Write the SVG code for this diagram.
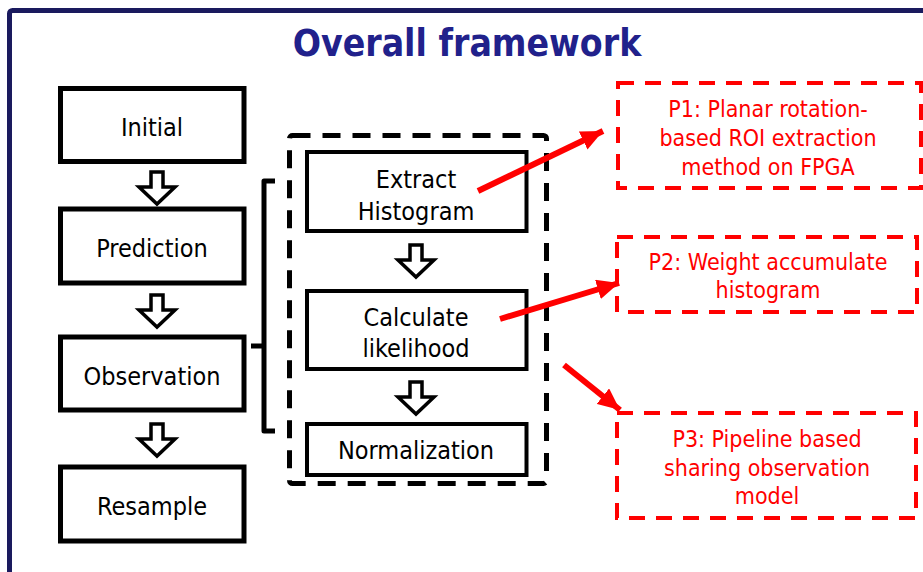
<svg xmlns="http://www.w3.org/2000/svg" width="923" height="572" viewBox="0 0 923 572">
<defs>
<style>
.frame{fill:none;stroke:#1A1A5E;stroke-width:5}
.title{font-family:"DejaVu Sans Condensed","DejaVu Sans",Verdana,sans-serif;font-stretch:condensed;font-weight:bold;font-size:37px;fill:#21218B;text-anchor:middle}
.box{fill:#fff;stroke:#000;stroke-width:5}
.ibox{fill:#fff;stroke:#000;stroke-width:4}
.t{font-family:"DejaVu Sans Condensed","DejaVu Sans",Verdana,sans-serif;font-stretch:condensed;font-size:25px;fill:#000;text-anchor:middle}
.rt{font-family:"DejaVu Sans Condensed","DejaVu Sans",Verdana,sans-serif;font-stretch:condensed;font-size:23px;fill:#FF0000;text-anchor:middle}
.rbox{fill:none;stroke:#FF0000;stroke-width:4;stroke-dasharray:16 11}
.dbox{fill:none;stroke:#000;stroke-width:5;stroke-dasharray:18 12}
.harrow{fill:#fff;stroke:#000;stroke-width:3.5;stroke-linejoin:miter}
.rline{stroke:#FF0000;stroke-width:6;fill:none}
.bracket{fill:none;stroke:#000;stroke-width:5;stroke-linejoin:round}
</style>
<marker id="rh" markerUnits="userSpaceOnUse" markerWidth="24" markerHeight="20" refX="22" refY="10" orient="auto">
<path d="M0,0 L22,10 L0,20 Z" fill="#FF0000"/>
</marker>
<path id="ha" d="M-6,0 L6,0 L6,15 L18,15 L0,32 L-18,15 L-6,15 Z"/>
</defs>

<rect class="frame" x="9.5" y="10.5" width="960" height="620" rx="3"/>
<text class="title" x="467" y="56">Overall framework</text>

<g id="initial"><rect class="box" x="60.5" y="88.5" width="183.5" height="73"/><text class="t" x="152" y="136">Initial</text></g>
<g id="prediction"><rect class="box" x="60.5" y="209" width="183.5" height="74"/><text class="t" x="152" y="257">Prediction</text></g>
<g id="observation"><rect class="box" x="60.5" y="337" width="183.5" height="73"/><text class="t" x="152" y="385">Observation</text></g>
<g id="resample"><rect class="box" x="60.5" y="467" width="183.5" height="74"/><text class="t" x="152" y="515">Resample</text></g>

<g id="observation-model">
<rect class="dbox" x="289.5" y="135.5" width="257" height="348" rx="3"/>
</g>
<g id="extract"><rect class="ibox" x="307" y="152" width="219.5" height="79"/><text class="t" x="416" y="188">Extract</text><text class="t" x="416" y="220">Histogram</text></g>
<g id="calculate"><rect class="ibox" x="307" y="291" width="219.5" height="78"/><text class="t" x="416" y="326">Calculate</text><text class="t" x="416" y="357">likelihood</text></g>
<g id="normalization"><rect class="ibox" x="307" y="424" width="219.5" height="51"/><text class="t" x="416" y="459">Normalization</text></g>

<g id="p1"><rect class="rbox" x="618" y="83" width="303" height="105"/>
<text class="rt" x="768" y="117">P1: Planar rotation-</text><text class="rt" x="768" y="146">based ROI extraction</text><text class="rt" x="768" y="175">method on FPGA</text></g>
<g id="p2"><rect class="rbox" x="617" y="237" width="300" height="75"/>
<text class="rt" x="768" y="270">P2: Weight accumulate</text><text class="rt" x="768" y="298">histogram</text></g>
<g id="p3"><rect class="rbox" x="617" y="413" width="299" height="105"/>
<text class="rt" x="767" y="447">P3: Pipeline based</text><text class="rt" x="767" y="476">sharing observation</text><text class="rt" x="767" y="504">model</text></g>

<g id="connectors">
<use href="#ha" class="harrow" x="157" y="172"/>
<use href="#ha" class="harrow" x="157" y="295"/>
<use href="#ha" class="harrow" x="157" y="424"/>
<use href="#ha" class="harrow" x="416" y="245"/>
<use href="#ha" class="harrow" x="416" y="382"/>
<path class="bracket" d="M275,181 L264,181 L264,431 L275,431 M264,346 L251,346"/>
<line class="rline" x1="478" y1="191" x2="603" y2="131" marker-end="url(#rh)"/>
<line class="rline" x1="500" y1="319" x2="619" y2="283" marker-end="url(#rh)"/>
<line class="rline" x1="564" y1="365" x2="620" y2="410" marker-end="url(#rh)"/>
</g>
</svg>
